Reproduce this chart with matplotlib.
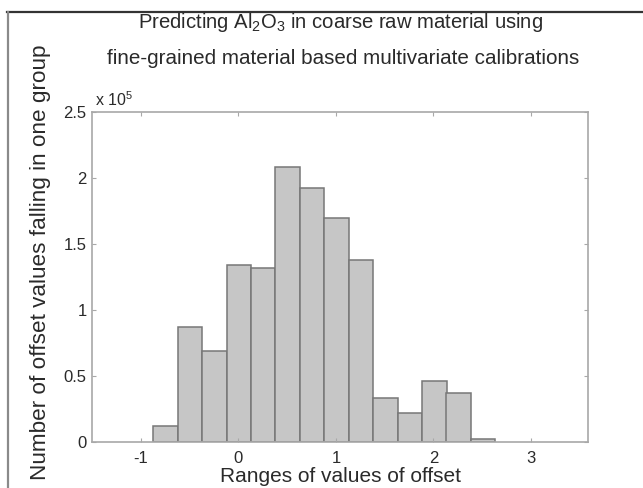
import matplotlib
matplotlib.use("Agg")
import matplotlib.pyplot as plt
from matplotlib.lines import Line2D
from matplotlib.ticker import FuncFormatter

plt.rcParams["font.family"] = ["Liberation Sans", "DejaVu Sans"]
plt.rcParams["mathtext.default"] = "regular"
plt.rcParams["axes.unicode_minus"] = False

# =====================================================
# DATA
# =====================================================

bin_centers = [-0.749, -0.498, -0.247, 0.003, 0.254, 0.505, 0.755,
               1.006, 1.257, 1.507, 1.758, 2.009, 2.259, 2.510]
counts = [11900, 86700, 68800, 133700, 131500, 208500, 192600,
          169800, 137800, 32900, 22000, 46200, 36700, 2300]
bin_width = 0.2506

x_ticks = [-1, 0, 1, 2, 3]
y_ticks = [0, 0.5e5, 1.0e5, 1.5e5, 2.0e5, 2.5e5]

title_lines = [
    "Predicting Al$_2$O$_3$ in coarse raw material using",
    "fine-grained material based multivariate calibrations",
]

# =====================================================
# FIGURE
# =====================================================

fig = plt.figure(figsize=(6.43, 4.88), dpi=100)
ax = fig.add_axes([0.1435, 0.0949, 0.7716, 0.6756])

ax.bar(
    bin_centers,
    counts,
    width=bin_width,
    color="#c6c6c6",
    edgecolor="#777777",
    linewidth=1.1,
)

ax.set_xlim(-1.5, 3.59)
ax.set_ylim(0, 2.5e5)
ax.set_xticks(x_ticks)
ax.set_yticks(y_ticks)
ax.yaxis.set_major_formatter(FuncFormatter(lambda v, p: f"{v / 1e5:g}"))

for s in ax.spines.values():
    s.set_color("#a8a8a8")
    s.set_linewidth(1.2)

ax.tick_params(
    direction="in",
    length=3,
    color="#a8a8a8",
    labelsize=12,
    labelcolor="#2a2a2a",
    top=True,
    right=True,
    pad=4,
)
ax.tick_params(axis="x", pad=7)

ax.text(0.005, 1.008, r"x 10$^5$", transform=ax.transAxes,
        fontsize=11.5, color="#2a2a2a", va="bottom", ha="left")

ax.set_xlabel("Ranges of values of offset", fontsize=15,
              color="#2a2a2a", labelpad=0.5)

# long y label, nearly the full height of the page
fig.text(41 / 643, 1 - 262 / 488,
         "Number of offset values falling in one group",
         rotation=90, fontsize=16.2, color="#2a2a2a",
         ha="center", va="center")

fig.text(0.53, 1 - 22 / 488, title_lines[0], fontsize=14.6,
         color="#2a2a2a", ha="center", va="center")
fig.text(0.534, 1 - 58 / 488, title_lines[1], fontsize=14.9,
         color="#2a2a2a", ha="center", va="center")

# page frame around the cropped figure
fig.add_artist(Line2D([7 / 643, 1], [1 - 12 / 488, 1 - 12 / 488],
                      transform=fig.transFigure, color="#333333",
                      linewidth=1.6))
fig.add_artist(Line2D([8 / 643, 8 / 643], [0, 1 - 12 / 488],
                      transform=fig.transFigure, color="#8a8a8a",
                      linewidth=1.6))

fig.savefig("out.png", dpi=100)
